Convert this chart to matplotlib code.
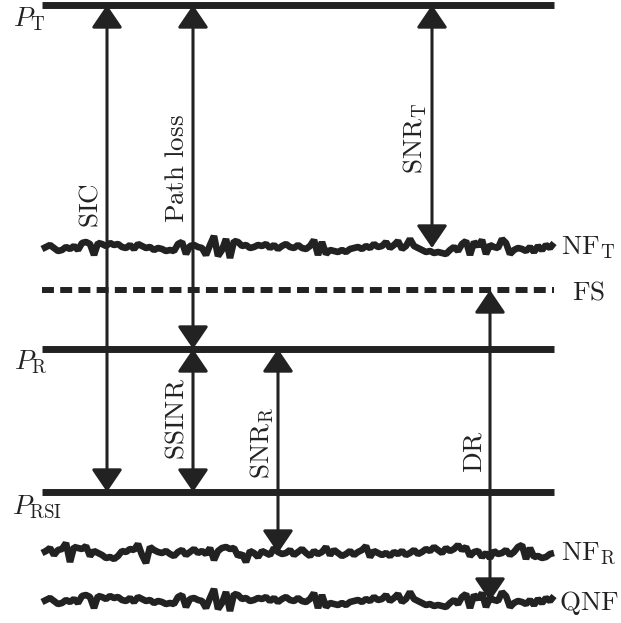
import numpy as np
import matplotlib
matplotlib.use('Agg')
import matplotlib.pyplot as plt
from matplotlib.patches import FancyArrowPatch

plt.rcParams['mathtext.fontset'] = 'cm'

#- power levels (vertical position, top = highest power)
lvl_PT, lvl_NFT, lvl_FS, lvl_PR, lvl_PRSI, lvl_NFR, lvl_QNF = 5, 248, 290, 349, 492, 553, 601
x_start, x_end = 42, 554

#- noise floor wiggles (sampled every 4 units along x)
noise_a = [-1, 1, 3, 0, -3, -2, 1, -1, 2, -2, 5, 6, 4, -7, 5, 4, 2, 5, 3, 4,
           1, 0, 3, -1, 4, 2, 0, 1, -2, 0, -1, -3, -2, -3, 4, 6, -6, 2, 3, 1,
           0, -7, 3, 12, -8, -2, 9, -10, 7, 6, 2, 3, 0, 1, 3, 2, 4, 0, 3, -1,
           2, 4, 1, 0, 3, 0, -1, 2, 8, -7, 6, -6, -2, -3, -4, -2, -4, -1, 0, 1,
           -1, 2, 0, 4, 1, 2, 6, 0, 3, 7, -1, 2, 9, 2, 0, -2, -4, -3, -5, -4,
           -5, -6, -2, 1, -3, 4, 7, -7, 6, 2, 8, -6, 3, 1, 0, 9, 5, -6, -2, 0,
           -1, -3, 1, -4, 2, -2, 3, 0, 5]
noise_b = [0, 2, 5, -2, 3, 4, 10, -9, 6, 5, 4, 7, -3, 2, 0, -2, -5, -4, -6, -3,
           2, 1, 4, 3, 9, -2, -10, 6, 3, 1, 0, 2, -1, -3, 1, 3, -2, 1, 4, 0,
           2, -1, 5, -7, 2, 5, 6, 4, 5, -3, -1, -9, 2, 0, -4, 2, 0, -2, 5, 1,
           -1, 0, 3, -2, 1, 4, 0, -3, 2, -1, 1, 6, -2, 3, 0, -3, -1, 2, -2, 1,
           3, 7, -4, 2, 0, -2, 0, -3, 1, -1, 2, -2, 0, 3, -1, 1, 4, 2, 6, 3,
           0, 5, 2, 4, 8, 3, 6, -3, 1, 2, -4, 0, -5, 2, -1, 0, 3, -2, 1, 6,
           8, -6, 5, -4, -3, -5, -4, -1, 0]

#- arrows: (x, from level, to level, label, label centre)
arrows = [(107, lvl_PT, lvl_PRSI, r'$\mathrm{SIC}$', 206),
          (193, lvl_PT, lvl_PR, r'$\mathrm{Path\ loss}$', 169),
          (432, lvl_PT, lvl_NFT, r'$\mathrm{SNR}_{\mathrm{T}}$', 138),
          (193, lvl_PR, lvl_PRSI, r'$\mathrm{SSINR}$', 419),
          (278, lvl_PR, lvl_NFR, r'$\mathrm{SNR}_{\mathrm{R}}$', 443),
          (490, lvl_FS, lvl_QNF, r'$\mathrm{DR}$', 452)]

col = '#222222'
fs = 19.5

fig = plt.figure(figsize=(6.21, 6.23), dpi=100)
ax = fig.add_axes([0, 0, 1, 1])
ax.set_xlim(0, 621)
ax.set_ylim(623, 0)
ax.axis('off')

xn = np.linspace(x_start, x_end, len(noise_a))

# solid power levels
for lv in [lvl_PT, lvl_PR, lvl_PRSI]:
    ax.plot([x_start, x_end], [lv, lv], color=col, lw=5, solid_capstyle='butt')
# full scale, dashed
ax.plot([x_start, x_end], [lvl_FS, lvl_FS], color=col, lw=4.3,
        linestyle=(0, (2.0, 1.05)), dash_capstyle='butt')
# noise floors
for lv, nz in [(lvl_NFT, noise_a), (lvl_NFR, noise_b), (lvl_QNF, noise_a)]:
    ax.plot(xn, lv - np.array(nz), color=col, lw=4.8,
            solid_joinstyle='bevel', solid_capstyle='butt')

for x, y0, y1, lab, yc in arrows:
    ax.add_patch(FancyArrowPatch((x, y0), (x, y1),
                 arrowstyle='<|-|>,head_length=14,head_width=9.5',
                 mutation_scale=1, lw=2.2, color=col,
                 shrinkA=0, shrinkB=0, zorder=3))
    ax.text(x - 3, yc, lab, rotation=90, ha='right', va='center',
            fontsize=fs, color=col)

# level names
ax.text(13, 26, r'$P_{\mathrm{T}}$', fontsize=fs, ha='left', va='baseline', color=col)
ax.text(14, 368, r'$P_{\mathrm{R}}$', fontsize=fs, ha='left', va='baseline', color=col)
ax.text(12, 513, r'$P_{\mathrm{RSI}}$', fontsize=fs, ha='left', va='baseline', color=col)
ax.text(561, lvl_NFT, r'$\mathrm{NF}_{\mathrm{T}}$', fontsize=fs, ha='left', va='center', color=col)
ax.text(572, lvl_FS + 2, r'$\mathrm{FS}$', fontsize=fs, ha='left', va='center', color=col)
ax.text(561, lvl_NFR, r'$\mathrm{NF}_{\mathrm{R}}$', fontsize=fs, ha='left', va='center', color=col)
ax.text(559, lvl_QNF + 2, r'$\mathrm{QNF}$', fontsize=fs, ha='left', va='center', color=col)

plt.savefig('out.png', dpi=100)
